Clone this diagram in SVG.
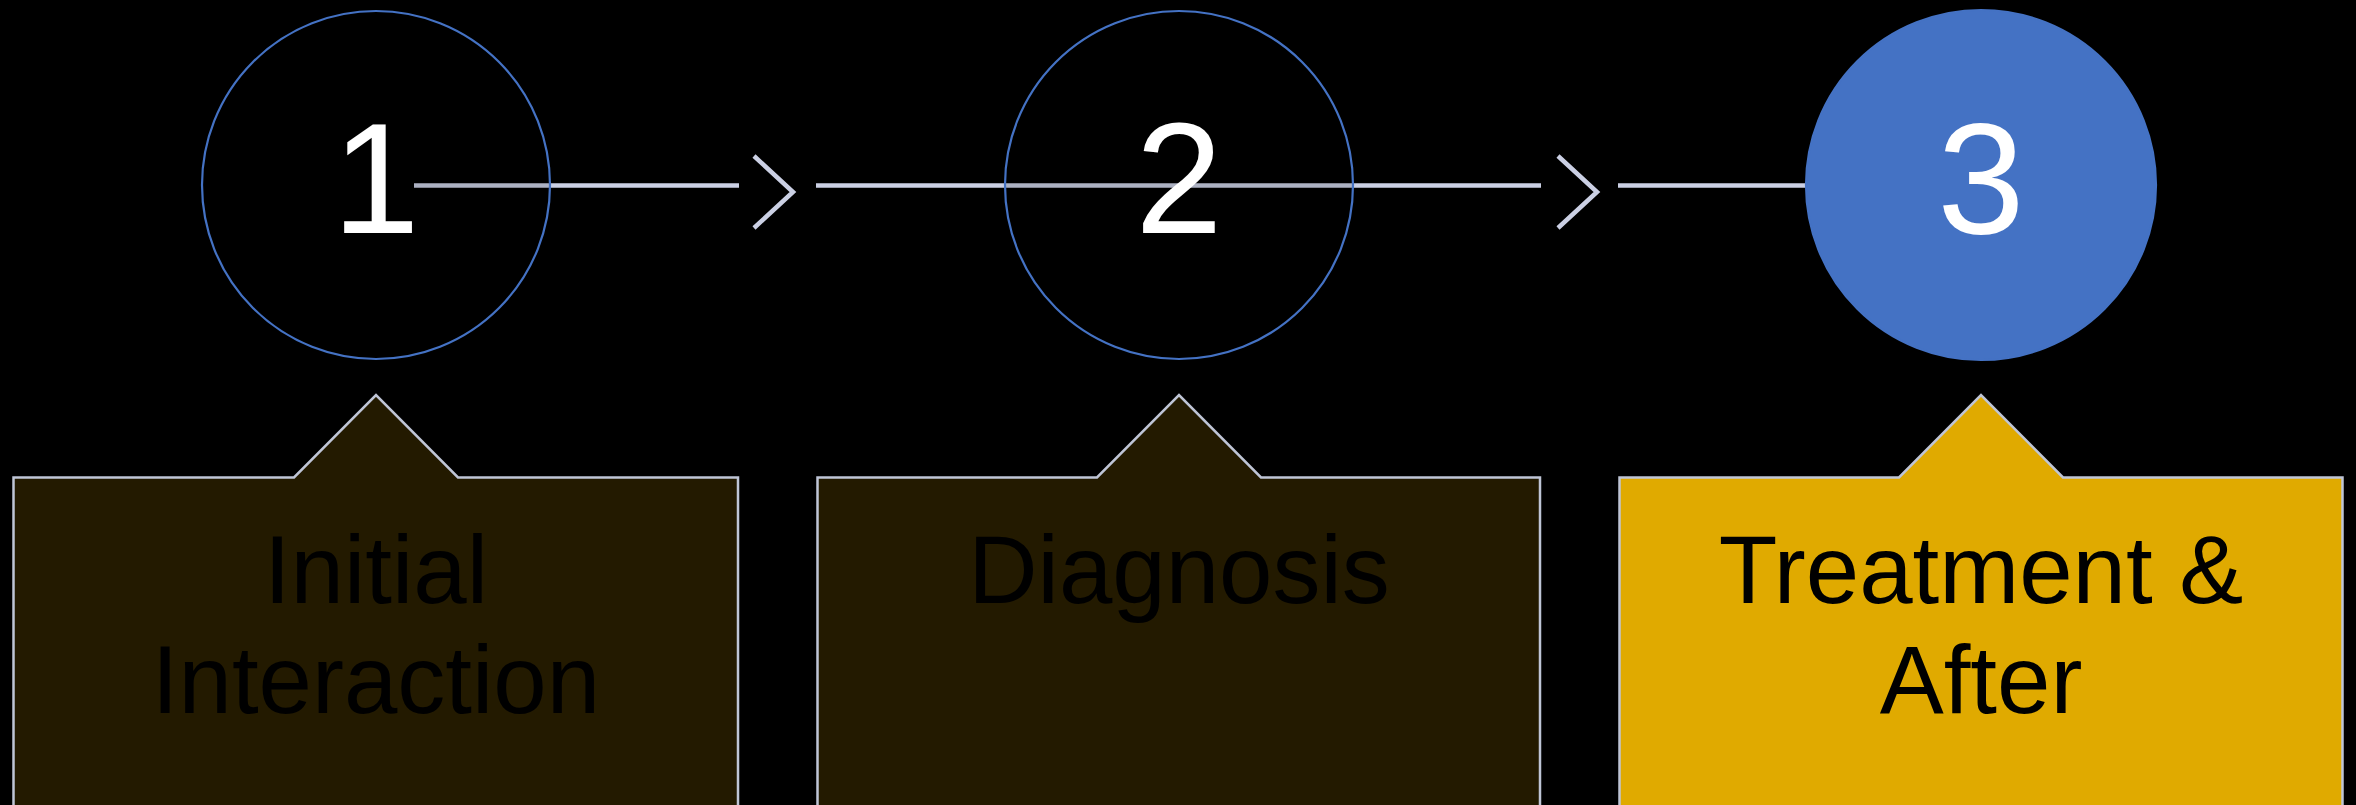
<svg xmlns="http://www.w3.org/2000/svg" width="2356" height="805" viewBox="0 0 2356 805">
<style>
.line{stroke:#CBD0E4;stroke-width:4.5;fill:none}
.chev{stroke:#CBD0E4;stroke-width:4.5;fill:none;stroke-linejoin:miter}
.ring{fill:#000;fill-opacity:0.15;stroke:#4472C4;stroke-width:2.2}
.solid{fill:#4472C4;stroke:#4472C4;stroke-width:2.2}
.num{font-family:"Liberation Sans",Arial,sans-serif;font-size:157px;fill:#FFFFFF;text-anchor:middle}
.box{stroke:#BFC5D6;stroke-width:2.5}
.dark{fill:#231A00}
.gold{fill:#E0AA00}
.lbl{font-family:"Liberation Sans",Arial,sans-serif;font-size:96px;fill:#000;text-anchor:middle}
</style>
<rect width="2356" height="805" fill="#000"/>
<g id="connectors">
<line class="line" x1="414" y1="185.5" x2="739" y2="185.5"/>
<polyline class="chev" points="754,156 793,192 754,228"/>
<line class="line" x1="816" y1="185.5" x2="1541" y2="185.5"/>
<polyline class="chev" points="1558,156 1597,192 1558,228"/>
<line class="line" x1="1618" y1="185.5" x2="1981" y2="185.5"/>
</g>
<g id="step1">
<circle class="ring" cx="376" cy="185" r="174"/>
<text class="num" x="376" y="233">1</text>
</g>
<g id="step2">
<circle class="ring" cx="1179" cy="185" r="174"/>
<text class="num" x="1179" y="233">2</text>
</g>
<g id="step3">
<circle class="solid" cx="1981" cy="185" r="175"/>
<text class="num" x="1981" y="233">3</text>
</g>
<g id="box1">
<path class="box dark" d="M13.5,820 L13.5,477.5 L294,477.5 L376,395 L458,477.5 L738,477.5 L738,820"/>
<text class="lbl" x="376" y="603">Initial</text>
<text class="lbl" x="376" y="713">Interaction</text>
</g>
<g id="box2">
<path class="box dark" d="M817.5,820 L817.5,477.5 L1097,477.5 L1179,395 L1261,477.5 L1540,477.5 L1540,820"/>
<text class="lbl" x="1179" y="603">Diagnosis</text>
</g>
<g id="box3">
<path class="box gold" d="M1619.5,820 L1619.5,477.5 L1899,477.5 L1981,395 L2063,477.5 L2342.5,477.5 L2342.5,820"/>
<text class="lbl" x="1981" y="603">Treatment &amp;</text>
<text class="lbl" x="1981" y="713">After</text>
</g>
</svg>
